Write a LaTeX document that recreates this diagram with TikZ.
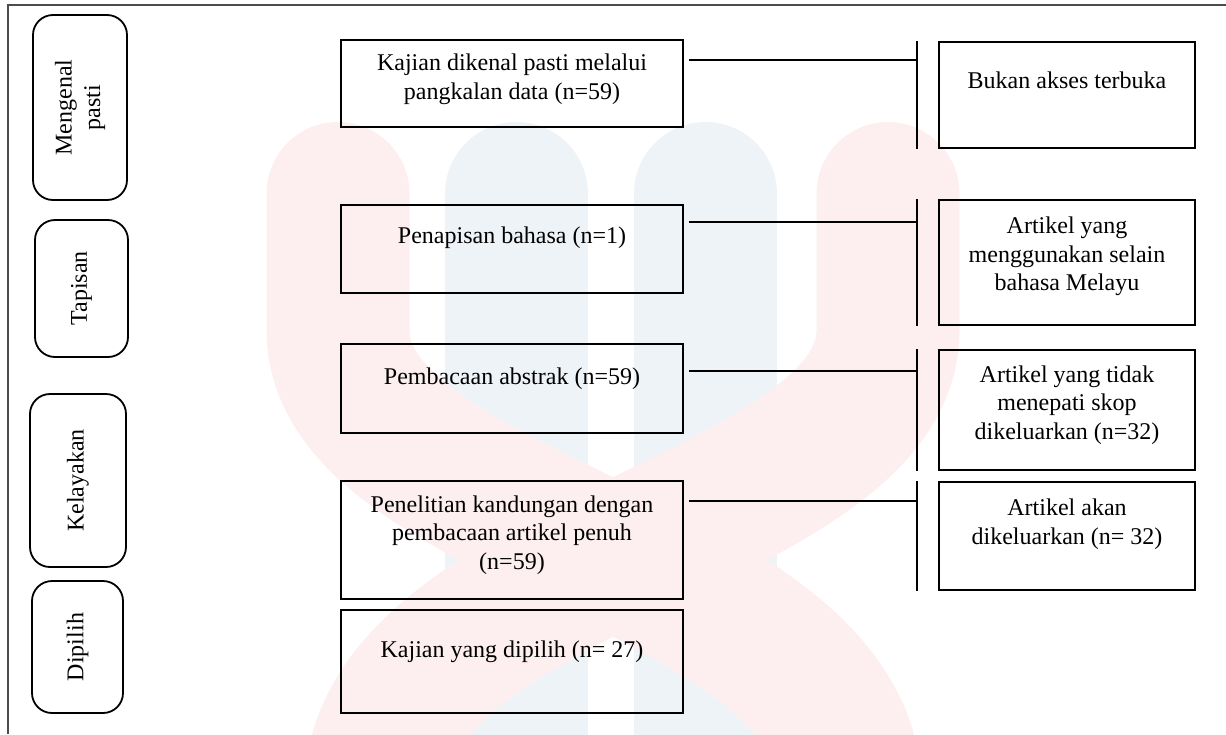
\documentclass[tikz,border=0pt]{standalone}
\usepackage{fontspec}
\setmainfont{Liberation Serif}
\usetikzlibrary{calc,positioning}
\definecolor{wmred}{RGB}{253,239,239}
\definecolor{wmblue}{RGB}{238,243,248}
\tikzset{
phase/.style={rectangle, rounded corners=20pt, draw=black, line width=1.8pt, rotate=90, align=center, inner sep=0pt},
flowbox/.style={rectangle, draw=black, line width=2pt, minimum width=342pt, align=center, inner sep=0pt},
exclbox/.style={rectangle, draw=black, line width=2pt, minimum width=256pt, align=center, inner sep=0pt},
lift/.style={text depth=#1},
link/.style={draw, line width=2pt},
frame/.style={draw=black!70, line width=2pt},
band/.style={line width=143pt, line cap=round},
}
\begin{document}
\begin{tikzpicture}[x=1pt, y=-1pt, font=\fontsize{24}{28.5}\selectfont]
\useasboundingbox (0,0) rectangle (1226,734);

% watermark
\begin{scope}
\clip (0,0) rectangle (1226,734);
\draw[band, wmblue] (516.5,193.5) -- (516.5,780);
\draw[band, wmblue] (705.5,193.5) -- (705.5,780);
\draw[band, wmred] (338,193.5) -- (338,330) .. controls (338,520) and (830,560) .. (850,780);
\draw[band, wmred] (888,193.5) -- (888,330) .. controls (888,520) and (396,560) .. (376,780);
\end{scope}

\draw[frame] (8,734) -- (8,5) -- (1226,5);

\node[phase, minimum width=185pt, minimum height=94pt] (ident) at (80,107.5) {Mengenal\\pasti};
\node[phase, minimum width=137pt, minimum height=93pt] (tapis) at (81.5,288.5) {Tapisan};
\node[phase, minimum width=173pt, minimum height=96pt] (layak) at (78,480.5) {Kelayakan};
\node[phase, minimum width=132pt, minimum height=91pt] (pilih) at (77.5,647) {Dipilih};

\node[flowbox, minimum height=87pt, lift=14pt] (k1) at (512,83.5) {Kajian dikenal pasti melalui\\pangkalan data (n=59)};
\node[flowbox, minimum height=88pt, lift=27pt] (k2) at (512,249) {Penapisan bahasa (n=1)};
\node[flowbox, minimum height=89pt, lift=25pt] (k3) at (512,388.5) {Pembacaan abstrak (n=59)};
\node[flowbox, minimum height=118pt, lift=15pt] (k4) at (512,540) {Penelitian kandungan dengan\\pembacaan artikel penuh\\(n=59)};
\node[flowbox, minimum height=103pt, lift=25pt] (k5) at (512,661.5) {Kajian yang dipilih (n= 27)};

\node[exclbox, minimum height=106pt, lift=29pt] (r1) at (1067,95) {Bukan akses terbuka};
\node[exclbox, minimum height=125pt, lift=17pt] (r2) at (1067,262.5) {Artikel yang\\menggunakan selain\\bahasa Melayu};
\node[exclbox, minimum height=120pt, lift=15pt] (r3) at (1067,410) {Artikel yang tidak\\menepati skop\\dikeluarkan (n=32)};
\node[exclbox, minimum height=108pt, lift=29pt] (r4) at (1067,536) {Artikel akan\\dikeluarkan (n= 32)};

\draw[link] let \p1=(r1.north west), \p2=(r1.south west) in (\x1-21pt,\y1) -- (\x1-21pt,\y2);
\draw[link] let \p1=(k1.north east), \p2=(r1.west) in (\x1+5pt,\y1-21pt) -- (\x2-21pt,\y1-21pt);

\draw[link] let \p1=(r2.north west), \p2=(r2.south west) in (\x1-21pt,\y1) -- (\x1-21pt,\y2);
\draw[link] let \p1=(k2.north east), \p2=(r2.west) in (\x1+5pt,\y1-18pt) -- (\x2-21pt,\y1-18pt);

\draw[link] let \p1=(r3.north west), \p2=(r3.south west) in (\x1-21pt,\y1) -- (\x1-21pt,\y2);
\draw[link] let \p1=(k3.north east), \p2=(r3.west) in (\x1+5pt,\y1-28pt) -- (\x2-21pt,\y1-28pt);

\draw[link] let \p1=(r4.north west), \p2=(r4.south west) in (\x1-21pt,\y1) -- (\x1-21pt,\y2);
\draw[link] let \p1=(k4.north east), \p2=(r4.west) in (\x1+5pt,\y1-21pt) -- (\x2-21pt,\y1-21pt);

\end{tikzpicture}
\end{document}
